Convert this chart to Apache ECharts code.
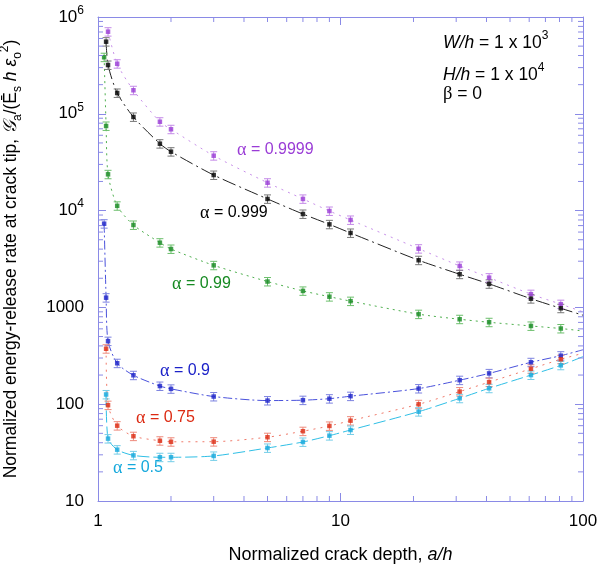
<!DOCTYPE html>
<html>
<head>
<meta charset="utf-8">
<script src="https://cdn.jsdelivr.net/npm/echarts@6/dist/echarts.min.js"></script>
<style>
  html, body { margin: 0; padding: 0; background: #fff; }
  #chart { width: 602px; height: 571px; }
</style>
</head>
<body>
<div id="chart"></div>
<script>
// normalized crack depth a/h (shared x positions, null = no point)
const aOverH = [1.06, 1.08, 1.1, 1.2, 1.4, 1.8, 2, 3, 5, 7, 9, 11, 21, 31, 41, 61, 81]

const g9999 = [null, null, 7.05e5, 3.29e5, 1.75e5, 8.28e4, 6.92e4, 3.69e4, 1.94e4, 1.32e4, 9.9e3, 8.0e3, 4.04e3, 2.68e3, 2.03e3, 1.37e3, 1.08e3]
const g999 = [null, 5.56e5, 3.19e5, 1.64e5, 9.27e4, 4.91e4, 4.06e4, 2.33e4, 1.32e4, 9.22e3, 7.21e3, 5.87e3, 3.07e3, 2.2e3, 1.75e3, 1.23e3, 979]
const g99 = [3.84e5, 7.48e4, 2.37e4, 1.12e4, 7.1e3, 4.66e3, 4.01e3, 2.72e3, 1.85e3, 1.48e3, 1.29e3, 1.16e3, 851, 754, 702, 643, 605]
const g9 = [7.32e3, 1.26e3, 448, 265, 199, 154, 144, 120, 109, 110, 114, 121, 145, 177, 208, 271, 317]
const g75 = [null, 374, 97.7, 60, 46.7, 41.9, 40.9, 41, 45.6, 52.6, 59.6, 67.6, 99.8, 135, 169, 232, 291]
const g5 = [null, 126, 44.1, 33.9, 29.6, 28.3, 28.3, 29.2, 35.3, 40.7, 47.3, 54.1, 83.7, 115, 146, 200, 252]

// fitted curve values where the curves leave the plot at a/h = 100
const fitEndX = 100
const fitEnd = { g9999: 900, g999: 830, g99: 570, g9: 365, g75: 336, g5: 310 }

const errFrac = 0.1

const xMinorTicks = [2, 3, 4, 5, 6, 7, 8, 9, 20, 30, 40, 50, 60, 70, 80, 90]
const yMinorTicks = []
for (const d of [10, 100, 1000, 1e4, 1e5]) for (let k = 2; k <= 9; k++) yMinorTicks.push(k * d)

const yTickLabels = { 10: '10', 100: '100', 1000: '1000', 10000: '10|4', 100000: '10|5', 1000000: '10|6' }

const axisColor = '#8a8ae6'
const font = 'Liberation Sans, Arial, sans-serif'
const serif = 'Liberation Serif, Times New Roman, serif'

const groups = [
  { key: 'g9999', vals: g9999, label: '0.9999', point: '#9a3cd6', bar: '#c48ae8', line: '#c890ea', dash: [2, 5], lx: 237, ly: 152 },
  { key: 'g999', vals: g999, label: '0.999', point: '#000000', bar: '#777777', line: '#222222', dash: [14, 4, 2, 4], lx: 200, ly: 215 },
  { key: 'g99', vals: g99, label: '0.99', point: '#168a22', bar: '#6cbf6c', line: '#4fb04f', dash: [2, 4], lx: 172, ly: 286 },
  { key: 'g9', vals: g9, label: '0.9', point: '#1c22c8', bar: '#7c82e0', line: '#4a52dc', dash: [9, 3, 2, 3], lx: 160, ly: 373 },
  { key: 'g75', vals: g75, label: '0.75', point: '#dc2a12', bar: '#ee8a7c', line: '#f07a6a', dash: [2, 5], lx: 136, ly: 420 },
  { key: 'g5', vals: g5, label: '0.5', point: '#14a8dc', bar: '#74cde8', line: '#2fbfe6', dash: [12, 4], lx: 113, ly: 470 },
]

function pts(vals) {
  const out = []
  vals.forEach((v, i) => { if (v != null) out.push([aOverH[i], v]) })
  return out
}

const series = []
groups.forEach(g => {
  const p = pts(g.vals)
  series.push({
    type: 'line', data: p.concat([[fitEndX, fitEnd[g.key]]]), smooth: 0.25,
    showSymbol: false, silent: true, z: 2,
    lineStyle: { color: g.line, width: 1, type: g.dash },
  })
  series.push({
    type: 'custom', data: p, z: 3, silent: true,
    renderItem: (params, api) => {
      const x = api.value(0), y = api.value(1)
      const top = api.coord([x, y * (1 + errFrac)])
      const bot = api.coord([x, y * (1 - errFrac)])
      const c = 3.5
      return {
        type: 'group', children: [
          { type: 'line', shape: { x1: top[0], y1: top[1], x2: bot[0], y2: bot[1] }, style: { stroke: g.bar, lineWidth: 1 } },
          { type: 'line', shape: { x1: top[0] - c, y1: top[1], x2: top[0] + c, y2: top[1] }, style: { stroke: g.bar, lineWidth: 1 } },
          { type: 'line', shape: { x1: bot[0] - c, y1: bot[1], x2: bot[0] + c, y2: bot[1] }, style: { stroke: g.bar, lineWidth: 1 } },
        ],
      }
    },
  })
  series.push({
    type: 'scatter', data: p, symbol: 'rect', symbolSize: 4.5, z: 4, silent: true,
    itemStyle: { color: g.point },
  })
})

// minor ticks on all four sides
series.push({
  type: 'custom', data: xMinorTicks.map(v => [v, 10]), silent: true, z: 5,
  renderItem: (params, api) => {
    const b = api.coord([api.value(0), 10]), t = api.coord([api.value(0), 1e6])
    return {
      type: 'group', children: [
        { type: 'line', shape: { x1: b[0], y1: b[1], x2: b[0], y2: b[1] - 5 }, style: { stroke: axisColor, lineWidth: 1 } },
        { type: 'line', shape: { x1: t[0], y1: t[1], x2: t[0], y2: t[1] + 5 }, style: { stroke: axisColor, lineWidth: 1 } },
      ],
    }
  },
})
series.push({
  type: 'custom', data: yMinorTicks.map(v => [1, v]), silent: true, z: 5,
  renderItem: (params, api) => {
    const l = api.coord([1, api.value(1)]), r = api.coord([100, api.value(1)])
    return {
      type: 'group', children: [
        { type: 'line', shape: { x1: l[0], y1: l[1], x2: l[0] + 5, y2: l[1] }, style: { stroke: axisColor, lineWidth: 1 } },
        { type: 'line', shape: { x1: r[0], y1: r[1], x2: r[0] - 5, y2: r[1] }, style: { stroke: axisColor, lineWidth: 1 } },
      ],
    }
  },
})

function richSet(size) {
  return {
    b: { fontSize: size, fontFamily: font, color: '#000', lineHeight: size + 8 },
    s: { fontSize: Math.round(size * 0.68), fontFamily: font, color: '#000', verticalAlign: 'top', lineHeight: 12 },
    i: { fontSize: size, fontFamily: font, color: '#000', fontStyle: 'italic', lineHeight: size + 8 },
    sub: { fontSize: Math.round(size * 0.68), fontFamily: font, color: '#000', verticalAlign: 'bottom', lineHeight: 12 },
    g: { fontSize: size + 1, fontFamily: 'DejaVu Serif, serif', color: '#000', fontStyle: 'italic', lineHeight: size + 8 },
    gr: { fontSize: size + 1, fontFamily: serif, color: '#000', lineHeight: size + 8 },
  }
}
const xNameRich = richSet(18)
const yNameRich = richSet(17.5)
const tickRich = richSet(17)
const noteRich = richSet(17.5)

const baseAxis = {
  axisLine: { show: true, lineStyle: { color: axisColor, width: 1 } },
  axisTick: { show: true, inside: true, length: 8, lineStyle: { color: axisColor } },
  splitLine: { show: false },
}

const chart = echarts.init(document.getElementById('chart'))
chart.setOption({
  animation: false,
  backgroundColor: '#fff',
  grid: { left: 98, top: 17, right: 19, bottom: 70, containLabel: false, outerBoundsMode: 'none' },
  xAxis: [
    Object.assign({}, baseAxis, {
      type: 'log', logBase: 10, min: 1, max: 100,
      name: '{b|Normalized crack depth, }{i|a/h}', nameLocation: 'middle', nameGap: 41,
      nameTextStyle: { rich: xNameRich },
      axisLabel: { color: '#000', fontSize: 17, fontFamily: font, margin: 12 },
    }),
    Object.assign({}, baseAxis, {
      type: 'log', logBase: 10, min: 1, max: 100, position: 'top', axisLabel: { show: false },
    }),
  ],
  yAxis: [
    Object.assign({}, baseAxis, {
      type: 'log', logBase: 10, min: 10, max: 1e6,
      name: '{b|Normalized energy-release rate at crack tip, }{g|𝒢}{sub|a}{b|/(Ē}{sub|s}{b| }{i|h ε}{sub|o}{s|2}{b|)}',
      nameLocation: 'middle', nameGap: 74,
      nameTextStyle: { rich: yNameRich },
      axisLabel: {
        margin: 14,
        formatter: v => {
          const t = yTickLabels[Math.round(v)]
          if (!t) return ''
          const parts = t.split('|')
          return parts.length > 1 ? '{b|' + parts[0] + '}{s|' + parts[1] + '}' : '{b|' + t + '}'
        },
        rich: tickRich,
      },
    }),
    Object.assign({}, baseAxis, {
      type: 'log', logBase: 10, min: 10, max: 1e6, position: 'right', axisLabel: { show: false },
    }),
  ],
  graphic: groups.map(g => ({
    type: 'text', left: g.lx, top: g.ly - 11, silent: true,
    style: {
      text: '{a|α}{t| = ' + g.label + '}',
      rich: {
        a: { fontSize: 18, fontFamily: serif, fill: g.point, lineHeight: 22 },
        t: { fontSize: 16, fontFamily: font, fill: g.point, lineHeight: 22 },
      },
    },
  })).concat([
    { type: 'text', left: 443, top: 30, style: { text: '{i|W/h}{b| = 1 x 10}{s|3}', rich: noteRich } },
    { type: 'text', left: 443, top: 62, style: { text: '{i|H/h}{b| = 1 x 10}{s|4}', rich: noteRich } },
    { type: 'text', left: 443, top: 85, style: { text: '{gr|β}{b| = 0}', rich: noteRich } },
  ]),
  series,
})
</script>
</body>
</html>
